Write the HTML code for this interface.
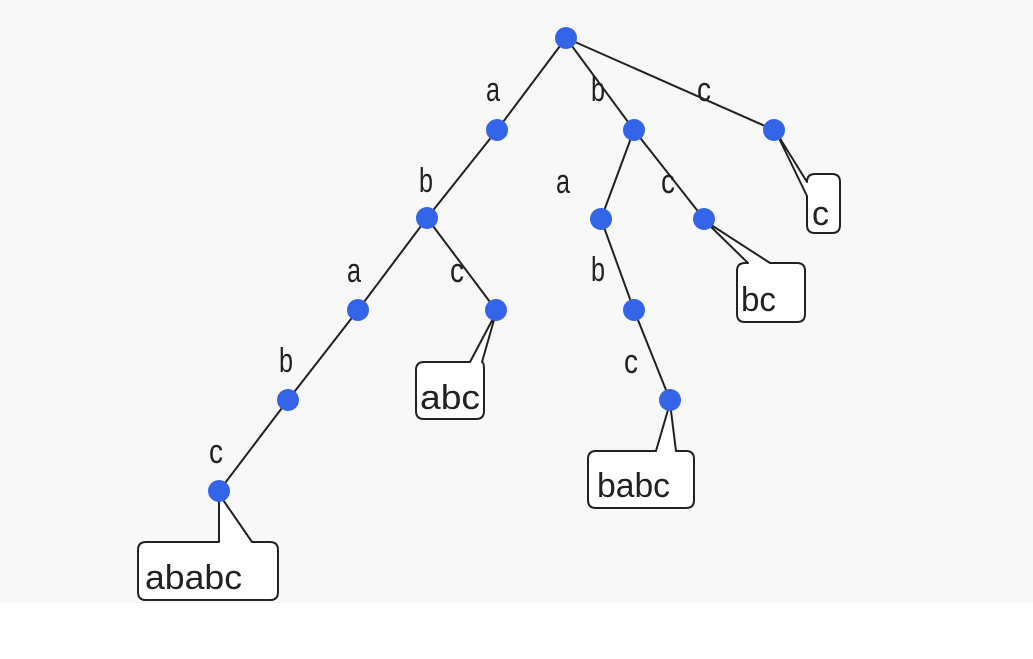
<!DOCTYPE html>
<html><head><meta charset="utf-8"><style>
html,body{margin:0;padding:0;background:#fff;}
svg{display:block;}
text{font-family:"Liberation Sans",sans-serif;font-size:34px;fill:#222;}
.e{font-size:28px;}
</style></head><body>
<svg width="1033" height="659" viewBox="0 0 1033 659" xmlns="http://www.w3.org/2000/svg">
<rect x="0" y="0" width="1033" height="603" fill="#f8f8f8"/>
<g stroke="#222" stroke-width="2" fill="none">
<line x1="566" y1="38" x2="497" y2="130"/>
<line x1="566" y1="38" x2="634" y2="130"/>
<line x1="566" y1="38" x2="774" y2="130"/>
<line x1="497" y1="130" x2="427" y2="218"/>
<line x1="634" y1="130" x2="601" y2="219"/>
<line x1="634" y1="130" x2="704" y2="219"/>
<line x1="427" y1="218" x2="358" y2="310"/>
<line x1="427" y1="218" x2="496" y2="310"/>
<line x1="601" y1="219" x2="634" y2="310"/>
<line x1="358" y1="310" x2="288" y2="400"/>
<line x1="634" y1="310" x2="670" y2="400"/>
<line x1="288" y1="400" x2="219" y2="491"/>
</g>
<g stroke="#222" stroke-width="2" fill="#fff" stroke-linejoin="round">
<path d="M146,542 H219 L219,494 L252,542 H270 Q278,542 278,550 V592 Q278,600 270,600 H146 Q138,600 138,592 V550 Q138,542 146,542 Z"/>
<path d="M424,362 H470 L496,313 L482,362 Q484,362 484,370 V411 Q484,419 476,419 H424 Q416,419 416,411 V370 Q416,362 424,362 Z"/>
<path d="M596,451 H656 L670,403 L676,451 H686 Q694,451 694,459 V500 Q694,508 686,508 H596 Q588,508 588,500 V459 Q588,451 596,451 Z"/>
<path d="M745,263 H748 L705,221 L770,263 H797 Q805,263 805,271 V314 Q805,322 797,322 H745 Q737,322 737,314 V271 Q737,263 745,263 Z"/>
<path d="M815,174 H832 Q840,174 840,182 V225 Q840,233 832,233 H815 Q807,233 807,225 V196 L776,132 L807,182 Q807,174 815,174 Z"/>
</g>
<g fill="#3465e8">
<circle cx="566" cy="38" r="11"/>
<circle cx="497" cy="130" r="11"/>
<circle cx="634" cy="130" r="11"/>
<circle cx="774" cy="130" r="11"/>
<circle cx="427" cy="218" r="11"/>
<circle cx="601" cy="219" r="11"/>
<circle cx="704" cy="219" r="11"/>
<circle cx="358" cy="310" r="11"/>
<circle cx="496" cy="310" r="11"/>
<circle cx="634" cy="310" r="11"/>
<circle cx="288" cy="400" r="11"/>
<circle cx="670" cy="400" r="11"/>
<circle cx="219" cy="491" r="11"/>
</g>
<g class="e">
<text x="486" y="101" textLength="14" lengthAdjust="spacingAndGlyphs">a</text>
<text x="591" y="101" textLength="14" lengthAdjust="spacingAndGlyphs">b</text>
<text x="697" y="101" textLength="14" lengthAdjust="spacingAndGlyphs">c</text>
<text x="419" y="192" textLength="14" lengthAdjust="spacingAndGlyphs">b</text>
<text x="556" y="193" textLength="14" lengthAdjust="spacingAndGlyphs">a</text>
<text x="661" y="193" textLength="14" lengthAdjust="spacingAndGlyphs">c</text>
<text x="347" y="282" textLength="14" lengthAdjust="spacingAndGlyphs">a</text>
<text x="450" y="282" textLength="14" lengthAdjust="spacingAndGlyphs">c</text>
<text x="591" y="281" textLength="14" lengthAdjust="spacingAndGlyphs">b</text>
<text x="279" y="372" textLength="14" lengthAdjust="spacingAndGlyphs">b</text>
<text x="624" y="373" textLength="14" lengthAdjust="spacingAndGlyphs">c</text>
<text x="209" y="463" textLength="14" lengthAdjust="spacingAndGlyphs">c</text>
</g>
<text x="145" y="589" textLength="97" lengthAdjust="spacingAndGlyphs">ababc</text>
<text x="420" y="409" textLength="60" lengthAdjust="spacingAndGlyphs">abc</text>
<text x="597" y="497" textLength="73" lengthAdjust="spacingAndGlyphs">babc</text>
<text x="741" y="311" textLength="35" lengthAdjust="spacingAndGlyphs">bc</text>
<text x="812" y="225" textLength="17" lengthAdjust="spacingAndGlyphs">c</text>
</svg>
</body></html>
